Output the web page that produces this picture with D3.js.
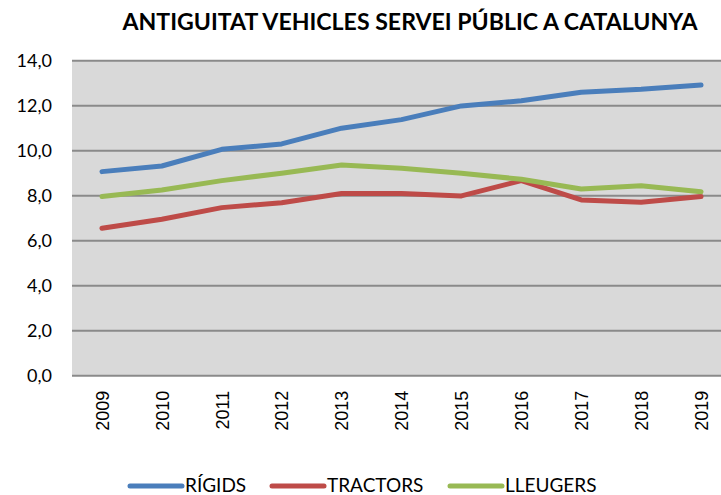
<!DOCTYPE html>
<html>
<head>
<meta charset="utf-8">
<script src="https://cdn.jsdelivr.net/npm/d3@7"></script>
<style>
  body { margin: 0; background: #fff; }
  svg { display: block; }
</style>
</head>
<body>
<div id="chart"></div>
<script>
var svgWidth = 721;
var svgHeight = 495;

var years = ["2009","2010","2011","2012","2013","2014","2015","2016","2017","2018","2019"];
var rigids   = [9.07, 9.32, 10.06, 10.3, 11.0, 11.38, 11.99, 12.22, 12.6, 12.73, 12.92];
var tractors = [6.55, 6.95, 7.47, 7.69, 8.1, 8.1, 7.99, 8.67, 7.81, 7.71, 7.96];
var lleugers = [7.96, 8.25, 8.67, 9.0, 9.36, 9.22, 9.0, 8.73, 8.3, 8.44, 8.18];
var yTicks = [0, 2, 4, 6, 8, 10, 12, 14];

var series = [
    {name: "RÍGIDS", values: rigids, color: "#4a7ebb"},
    {name: "TRACTORS", values: tractors, color: "#be4b48"},
    {name: "LLEUGERS", values: lleugers, color: "#98b954"}
];

var plot = {left: 72, right: 731, top: 60.7, bottom: 375.7};

var svg = d3.select("#chart")
    .append("svg")
    .attr("width", svgWidth)
    .attr("height", svgHeight);

var xScale = d3.scalePoint()
    .domain(years)
    .range([plot.left, plot.right])
    .padding(0.5);

var yScale = d3.scaleLinear()
    .domain([0, 14])
    .range([plot.bottom, plot.top]);

// plot background
svg.append("rect")
    .attr("x", plot.left)
    .attr("y", plot.top)
    .attr("width", plot.right - plot.left)
    .attr("height", plot.bottom - plot.top)
    .attr("fill", "#d9d9d9");

// gridlines
svg.append("g")
    .selectAll("line")
    .data(yTicks)
    .enter()
    .append("line")
    .attr("x1", plot.left)
    .attr("x2", plot.right)
    .attr("y1", d => yScale(d))
    .attr("y2", d => yScale(d))
    .attr("stroke", "#8a8a8a")
    .attr("stroke-width", 2);

// y labels
var leftAxis = d3.axisLeft(yScale)
    .tickValues(yTicks)
    .tickSize(0)
    .tickPadding(20)
    .tickFormat(d => d3.format(".1f")(d).replace(".", ","));

var yAxis = svg.append("g")
    .attr("transform", `translate(${plot.left},0)`)
    .call(leftAxis);
yAxis.select(".domain").remove();
yAxis.selectAll("text")
    .attr("font-family", "Lato, 'Open Sans', sans-serif")
    .attr("font-size", "18px")
    .attr("fill", "#000");

// x labels, rotated
var bottomAxis = d3.axisBottom(xScale).tickSize(0);
var xAxis = svg.append("g")
    .attr("transform", `translate(0,${plot.bottom})`)
    .call(bottomAxis);
xAxis.select(".domain").remove();
xAxis.selectAll("text")
    .attr("font-family", "'Liberation Sans', Arial, sans-serif")
    .attr("font-size", "18px")
    .attr("fill", "#000")
    .attr("text-anchor", "end")
    .attr("transform", "rotate(-90)")
    .attr("x", -15)
    .attr("y", 0)
    .attr("dy", "0.35em");

// lines
var line = d3.line()
    .x((d, i) => xScale(years[i]))
    .y(d => yScale(d));

svg.append("g")
    .selectAll("path")
    .data(series)
    .enter()
    .append("path")
    .attr("d", d => line(d.values))
    .attr("fill", "none")
    .attr("stroke", d => d.color)
    .attr("stroke-width", 5)
    .attr("stroke-linecap", "round")
    .attr("stroke-linejoin", "round");

// title
svg.append("text")
    .attr("x", 410)
    .attr("y", 30)
    .attr("text-anchor", "middle")
    .attr("font-family", "Lato, 'Open Sans', sans-serif")
    .attr("font-weight", "bold")
    .attr("font-size", "22px")
    .attr("textLength", 575)
    .attr("lengthAdjust", "spacingAndGlyphs")
    .attr("fill", "#000")
    .text("ANTIGUITAT VEHICLES SERVEI PÚBLIC A CATALUNYA");

// legend
var legendX = [130, 272, 450];
var legend = svg.append("g")
    .selectAll("g")
    .data(series)
    .enter()
    .append("g")
    .attr("transform", (d, i) => `translate(${legendX[i]},486)`);

legend.append("line")
    .attr("x1", 0)
    .attr("x2", 52)
    .attr("stroke", d => d.color)
    .attr("stroke-width", 5)
    .attr("stroke-linecap", "round");

legend.append("text")
    .attr("x", 55)
    .attr("y", 6)
    .attr("font-family", "Lato, 'Open Sans', sans-serif")
    .attr("font-size", "19px")
    .attr("fill", "#000")
    .text(d => d.name);
</script>
</body>
</html>
